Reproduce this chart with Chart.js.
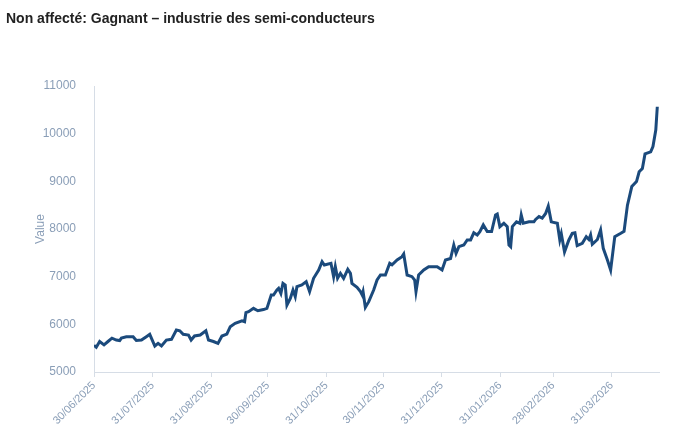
<!DOCTYPE html>
<html>
<head>
<meta charset="utf-8">
<script src="https://cdn.jsdelivr.net/npm/chart.js@4.4.1/dist/chart.umd.min.js"></script>
<style>
  body { margin: 0; background: #fff; }
  .wrap { position: relative; width: 682px; height: 434px; }
  .title {
    position: absolute; left: 6px; top: 10px;
    font: bold 14px "Liberation Sans", Arial, sans-serif; color: #222;
  }
  canvas { position: absolute; left: 0; top: 0; }
</style>
</head>
<body>
<div class="wrap">
  <canvas id="myChart" width="682" height="434"></canvas>
  <div class="title">Non affecté: Gagnant – industrie des semi-conducteurs</div>
</div>
<script>
// days since 30/06/2025
const days = [0, 1.2, 3, 5.3, 7.4, 9.5, 11.8, 13.6, 14.5, 17.1, 20.7, 22.4, 25.1, 27.7, 29.5,
  32.2, 33.9, 35.7, 38.3, 41, 43.6, 45.4, 47.2, 50, 51.4, 53.2, 56.2, 59.2, 60.6,
  63.2, 65.6, 67.7, 70.3, 72.1, 74.7, 78.3, 79.7, 80.4, 81.8, 84.4, 86.7, 89.7, 91.5,
  93.8, 95, 96.8, 97.7, 98.9, 100, 101.2, 102.1, 103.9, 105.3, 106.5, 107.4, 110, 112.3,
  114.1, 116.2, 118.9, 120.7, 121.9, 125.4, 126.8, 127.7, 128.9, 130.4, 132.1, 134.3,
  135.7, 136.5, 139.2, 141, 141.9, 142.4, 143.6, 145.4, 148, 149.8, 151.6, 154.2, 156.5,
  157.7, 160.4, 163, 163.9, 165.7, 168.3, 169.7, 170.4, 171.8, 174.5, 177.1, 181.6,
  184.2, 186, 188.7, 190.4, 191.6, 193.1, 195.7, 197.5, 199.3, 201, 202.8, 204.2, 206,
  208.1, 210.4, 212.5, 213.4, 214.8, 216.9, 218.7, 219.6, 220.5, 221.4, 223.6, 225.4,
  226.1, 227.2, 230.2, 232.8, 233.7, 235.5, 237.2, 239, 240.4, 242, 245.2, 246.5, 247.3,
  249, 251.3, 253.1, 254.5, 255.7, 258.4, 260.5, 261.9, 262.8, 263.7, 266.4, 268.1,
  269.5, 271.7, 273.4, 275.6, 278.8, 280.5, 282.3, 284.6, 287.1, 288.5, 290.2, 291.6,
  294.6, 295.8, 297.3, 298.1];

const values = [5560, 5520, 5640, 5570, 5640, 5710, 5670, 5660, 5710, 5740, 5740, 5660, 5670, 5740, 5790,
  5545, 5600, 5545, 5670, 5685, 5880, 5865, 5790, 5775, 5670, 5755, 5775, 5865, 5670,
  5640, 5600, 5755, 5795, 5950, 6020, 6075, 6055, 6245, 6265, 6335, 6285, 6310, 6335,
  6615, 6615, 6720, 6755, 6650, 6860, 6825, 6405, 6545, 6720, 6580, 6790, 6825, 6895,
  6685, 6965, 7140, 7315, 7245, 7280, 7000, 7210, 6965, 7070, 6965, 7155,
  7070, 6860, 6775, 6685, 6615, 6685, 6355, 6475, 6720, 6930, 7035, 7035, 7280,
  7250, 7350, 7420, 7475, 7035, 7000, 6930, 6685, 7035, 7140, 7210, 7210,
  7140, 7350, 7380, 7665, 7490, 7630, 7665, 7770, 7770, 7920, 7875, 7945, 8085,
  7945, 7945, 8295, 8315, 8050, 8120, 8050, 7665, 7630, 8050, 8150, 8120,
  8295, 8120, 8150, 8150, 8200, 8260, 8230, 8325, 8480, 8150, 8120, 7770, 7900,
  7520, 7770, 7910, 7920, 7650, 7700, 7840, 7780, 7875, 7680, 7780, 7980,
  7595, 7350, 7140, 7840, 7910, 7950, 8500, 8890, 8995, 9200, 9270, 9575,
  9620, 9730, 10075, 10565];

const tickDays = [0, 31, 62, 92, 123, 153, 184, 215, 243, 274];
const tickLabels = ['30/06/2025', '31/07/2025', '31/08/2025', '30/09/2025', '31/10/2025',
  '30/11/2025', '31/12/2025', '31/01/2026', '28/02/2026', '31/03/2026'];

const axisColor = '#8a9eb7';
const lineColor = '#1b4a7c';

const points = days.map((d, i) => ({ x: d, y: values[i] }));

const ctx = document.getElementById('myChart');
new Chart(ctx, {
  type: 'line',
  data: {
    datasets: [{
      data: points,
      borderColor: lineColor,
      borderWidth: 3,
      pointRadius: 0,
      tension: 0,
      fill: false
    }]
  },
  options: {
    responsive: false,
    animation: false,
    layout: {
      padding: { left: 29, right: 23, top: 86, bottom: 0 }
    },
    plugins: {
      legend: { display: false },
      tooltip: { enabled: false }
    },
    scales: {
      x: {
        type: 'linear',
        min: 0,
        max: 299,
        afterBuildTicks: function (scale) {
          scale.ticks = tickDays.map(v => ({ value: v }));
        },
        afterFit: function (scale) {
          scale.height = 62;
        },
        grid: {
          drawOnChartArea: false,
          drawTicks: true,
          tickLength: 5,
          color: '#d6dde6'
        },
        border: { display: true, color: '#d6dde6' },
        ticks: {
          autoSkip: false,
          minRotation: 45,
          maxRotation: 45,
          padding: 2,
          color: axisColor,
          font: { family: '"Liberation Sans", Arial, sans-serif', size: 11 },
          callback: function (value) {
            const i = tickDays.indexOf(value);
            return i >= 0 ? tickLabels[i] : '';
          }
        }
      },
      y: {
        min: 5000,
        max: 11000,
        afterFit: function (scale) {
          scale.width = 65;
        },
        grid: { display: false },
        border: { display: true, color: '#d6dde6' },
        title: {
          display: true,
          text: 'Value',
          color: axisColor,
          font: { family: '"Liberation Sans", Arial, sans-serif', size: 12 }
        },
        ticks: {
          stepSize: 1000,
          padding: 10,
          color: axisColor,
          font: { family: '"Liberation Sans", Arial, sans-serif', size: 12 },
          callback: function (value) {
            return String(value);
          }
        }
      }
    }
  }
});
</script>
</body>
</html>
